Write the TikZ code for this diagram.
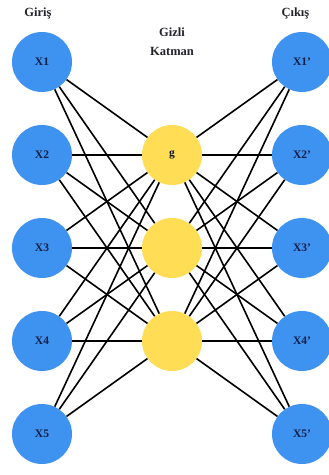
\documentclass[tikz,border=0pt]{standalone}
\usepackage{fontspec}
\setmainfont{Liberation Serif}
\definecolor{nodeblue}{RGB}{62,146,240}
\definecolor{nodeyellow}{RGB}{255,221,85}
\definecolor{labeltext}{RGB}{35,35,45}
\definecolor{nodetext}{RGB}{20,30,70}
\begin{document}
\begin{tikzpicture}[x=1pt,y=-1pt,
  io/.style={circle,fill=nodeblue,minimum size=60pt,inner sep=0pt,font=\bfseries\fontsize{11.5}{13}\selectfont,text=nodetext},
  hid/.style={circle,fill=nodeyellow,minimum size=60pt,inner sep=0pt,font=\bfseries\fontsize{11.5}{13}\selectfont,text=nodetext!60!black},
  title/.style={font=\bfseries\fontsize{12.5}{19}\selectfont,text=labeltext,align=center},
  link/.style={line width=1.6pt,black}]
\useasboundingbox (0,0) rectangle (329,475);
\clip (0,0) rectangle (329,475);
\node[title] (tin) at (38,13) {Giriş};
\node[title] (thid) at (172,42) {Gizli\\Katman};
\node[title,anchor=west] (tout) at (278,13) {Çıkış};
\foreach \i/\y in {1/62,2/155,3/248,4/341,5/434}{
  \node[io] (x\i) at (42,\y) {X\i};
  \node[io] (y\i) at (302,\y) {X\i'};
}
\node[hid] (h1) at (172,155) {g};
\node[hid] (h2) at (172,248) {};
\node[hid] (h3) at (172,341) {};
\foreach \i in {1,...,5}{
  \foreach \j in {1,2,3}{
    \draw[link] (x\i) -- (h\j);
    \draw[link] (h\j) -- (y\i);
  }
}
\end{tikzpicture}
\end{document}
